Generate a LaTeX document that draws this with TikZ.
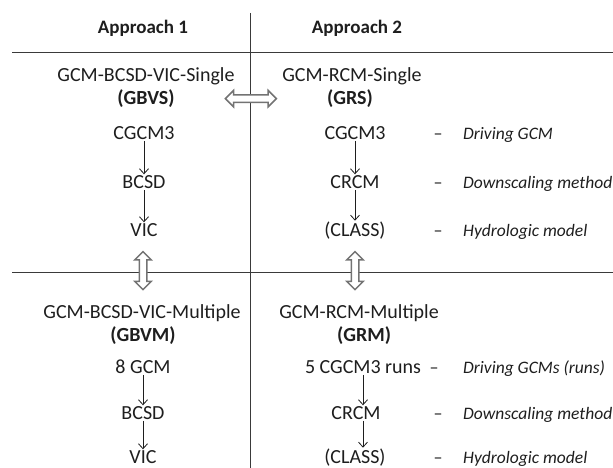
\documentclass[tikz,border=0pt]{standalone}
\usepackage{fontspec}
\setmainfont{Carlito}
\usetikzlibrary{arrows.meta,shapes.arrows,calc}

\definecolor{inkgray}{HTML}{1E1E1E}
\definecolor{rulegray}{HTML}{3A3A3A}
\definecolor{linkgray}{HTML}{737373}

\tikzset{
  hdr/.style={anchor=base,inner sep=1pt,text=inkgray,font=\fontsize{19}{22}\selectfont\bfseries},
  lbl/.style={anchor=base,inner sep=1pt,text=inkgray,font=\fontsize{20}{24}\selectfont},
  code/.style={lbl,font=\fontsize{20}{24}\selectfont\bfseries},
  role/.style={anchor=base west,inner sep=0pt,text=inkgray,font=\fontsize{17.5}{21}\selectfont\itshape},
  dashlbl/.style={anchor=base,inner sep=0pt,text=inkgray,font=\fontsize{18}{21}\selectfont},
  flow/.style={-{Straight Barb[length=5pt,width=9pt]},line width=0.8pt,draw=inkgray},
  linkarrow/.style={double arrow,draw=linkgray,fill=white,line width=1.5pt,
    double arrow head extend=4.5pt,double arrow tip angle=90,
    inner sep=3pt,text width=0pt,text height=0pt,text depth=0pt},
}

\begin{document}
\begin{tikzpicture}[x=1pt,y=-1pt]
\useasboundingbox (0,0) rectangle (613,468);

% Grid lines
\draw[rulegray,line width=0.9pt] (250,13) -- (250,468);
\draw[rulegray,line width=0.9pt] (12,52) -- (613,52);
\draw[rulegray,line width=0.9pt] (12,272) -- (613,272);

% Headers
\node[hdr] (appA) at (143,33.5) {Approach 1};
\node[hdr] (appB) at (357,33.5) {Approach 2};

% Approach 1, single
\node[lbl] (singleA) at (146,81.5) {GCM-BCSD-VIC-Single};
\node[code] (gbvs) at (146,104.5) {(GBVS)};
\node[lbl] (cgcmA) at (144,139.5) {CGCM3};
\node[lbl] (bcsdA) at (144,188.5) {BCSD};
\node[lbl] (vicA) at (144,236.5) {VIC};
\draw[flow] (cgcmA.south) -- (bcsdA.north);
\draw[flow] (bcsdA.south) -- (vicA.north);

% Approach 2, single
\node[lbl] (singleB) at (352,81.5) {GCM-RCM-Single};
\node[code] (grs) at (350,104.5) {(GRS)};
\node[lbl] (cgcmB) at (355,139.5) {CGCM3};
\node[lbl] (crcmB) at (355,188.5) {CRCM};
\node[lbl] (classB) at (355,236.5) {(CLASS)};
\draw[flow] (cgcmB.south) -- (crcmB.north);
\draw[flow] (crcmB.south) -- (classB.north);

\node[dashlbl] (dashA) at (438,139.5) {–};
\node[dashlbl] (dashB) at (438,188.5) {–};
\node[dashlbl] (dashC) at (438,236.5) {–};
\node[role] (roleA) at (463,139.5) {Driving GCM};
\node[role] (roleB) at (463,188.5) {Downscaling method};
\node[role] (roleC) at (463,236.5) {Hydrologic model};

% Approach 1, multiple
\node[lbl] (multiA) at (142,318.5) {GCM-BCSD-VIC-Multiple};
\node[code] (gbvm) at (143,341.5) {(GBVM)};
\node[lbl] (gcmC) at (143,373.5) {8 GCM};
\node[lbl] (bcsdC) at (143,419.5) {BCSD};
\node[lbl] (vicC) at (143,463.5) {VIC};
\draw[flow] (gcmC.south) -- (bcsdC.north);
\draw[flow] (bcsdC.south) -- (vicC.north);

% Approach 2, multiple
\node[lbl] (multiB) at (359,318.5) {GCM-RCM-Multiple};
\node[code] (grm) at (364,341.5) {(GRM)};
\node[lbl] (runsD) at (363,373.5) {5 CGCM3 runs};
\node[lbl] (crcmD) at (356,419.5) {CRCM};
\node[lbl] (classD) at (355,463.5) {(CLASS)};
\draw[flow] (runsD.south) -- (runsD.south |- crcmD.north);
\draw[flow] (runsD.south |- crcmD.south) -- (runsD.south |- classD.north);

\node[dashlbl] (dashD) at (434,373.5) {–};
\node[dashlbl] (dashE) at (438,419.5) {–};
\node[dashlbl] (dashF) at (438,463.5) {–};
\node[role] (roleD) at (463,373.5) {Driving GCMs (runs)};
\node[role] (roleE) at (463,419.5) {Downscaling method};
\node[role] (roleF) at (463,463.5) {Hydrologic model};

% Links between the four setups
\node[linkarrow,minimum height=51pt] (linkS) at ($(gbvs.east)!0.5!(grs.west)$) {};
\node[linkarrow,minimum height=38pt,shape border rotate=90] (linkA)
  at ($(vicA.south)!0.5!(multiA.north)$) {};
\node[linkarrow,minimum height=38pt,shape border rotate=90] (linkB)
  at (classB |- linkA) {};

\end{tikzpicture}
\end{document}
